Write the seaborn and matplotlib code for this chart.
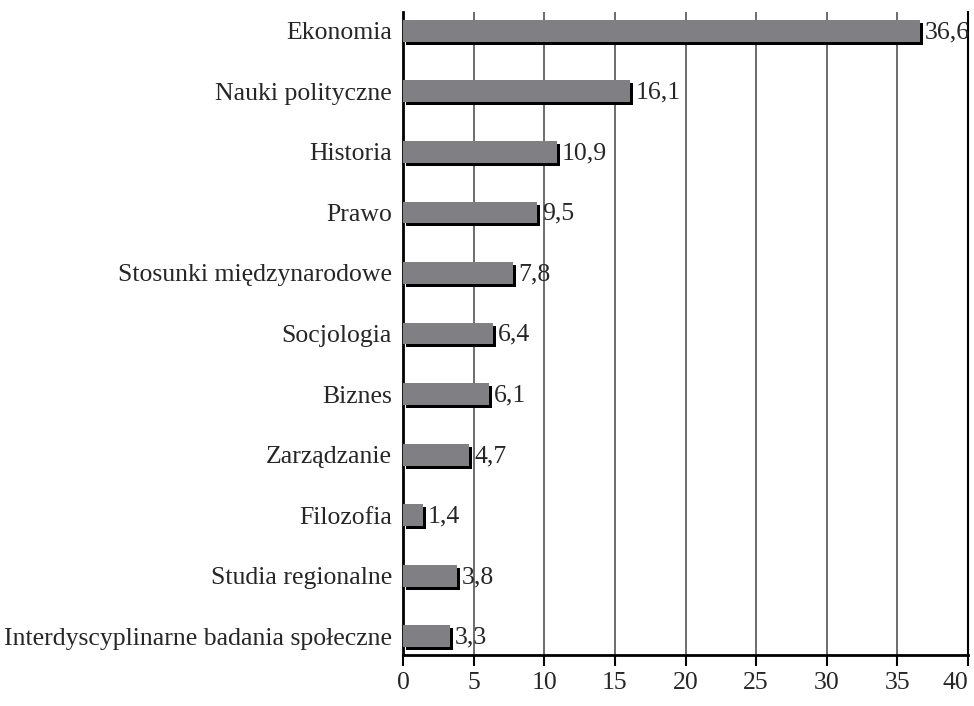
import matplotlib
matplotlib.use("Agg")
import matplotlib.pyplot as plt
import matplotlib.transforms as mtransforms
import pandas as pd
import seaborn as sns

# dane
dziedziny = ["Ekonomia", "Nauki polityczne", "Historia", "Prawo",
             "Stosunki międzynarodowe", "Socjologia", "Biznes", "Zarządzanie",
             "Filozofia", "Studia regionalne",
             "Interdyscyplinarne badania społeczne"]
procenty = [36.6, 16.1, 10.9, 9.5, 7.8, 6.4, 6.1, 4.7, 1.4, 3.8, 3.3]
x_ticks = [0, 5, 10, 15, 20, 25, 30, 35, 40]

df = pd.DataFrame({"dziedzina": dziedziny, "procent": procenty})

sns.set_style("white")
plt.rcParams["font.family"] = ["Liberation Serif", "DejaVu Serif"]
FS = 18.5

fig = plt.figure(figsize=(9.74, 7.06), dpi=100)
ax = fig.add_axes([0.4138, 0.0722, 0.5800, 0.9108])

# cień (czarny, przesunięty w prawo i w dół)
sns.barplot(data=df, x="procent", y="dziedzina", color="black", width=0.36,
            saturation=1, linewidth=0, ax=ax, zorder=3)
shift = mtransforms.ScaledTranslation(3 / 100, -3 / 100, fig.dpi_scale_trans)
for p in ax.patches:
    p.set_transform(ax.transData + shift)

sns.barplot(data=df, x="procent", y="dziedzina", color="#807f84", width=0.36,
            saturation=1, linewidth=0, ax=ax, zorder=4)

for val, lab in zip(procenty, dziedziny):
    ax.annotate(f"{val:.1f}".replace(".", ","), xy=(val, lab),
                xytext=(3.5, -1), textcoords="offset points",
                va="center", ha="left", fontsize=FS, zorder=5)

ax.set_xlim(0, 40)
ax.set_ylim(len(dziedziny) - 1 + 0.31, -0.31)
ax.set_xticks(x_ticks)
ax.set_xticklabels([str(t) for t in x_ticks], fontsize=FS)
ax.get_xticklabels()[-1].set_ha("right")
ax.tick_params(axis="y", labelsize=FS, length=0, pad=8)
ax.tick_params(axis="x", length=8, width=1.5, color="black", pad=4,
               bottom=True, direction="out")
ax.set_xlabel("")
ax.set_ylabel("")

ax.grid(axis="x", color="#606060", linewidth=1.3, zorder=0)
ax.set_axisbelow(True)
ax.spines["top"].set_visible(False)
ax.spines["right"].set_visible(True)
ax.spines["right"].set_color("black")
ax.spines["right"].set_linewidth(1.5)
for s in ["left", "bottom"]:
    ax.spines[s].set_color("black")
    ax.spines[s].set_linewidth(2)

fig.savefig("out.png", dpi=100)
